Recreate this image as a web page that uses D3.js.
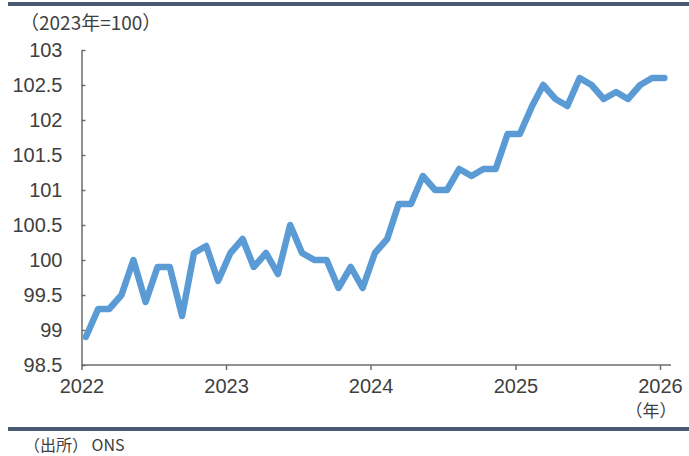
<!DOCTYPE html>
<html>
<head>
<meta charset="utf-8">
<script src="https://cdn.jsdelivr.net/npm/d3@7"></script>
<style>
  body { margin: 0; background: #fff; }
  svg { display: block; font-family: 'Liberation Sans', 'Noto Sans CJK JP', sans-serif; }
</style>
</head>
<body>
<svg id="chart"></svg>
<script>
// monthly index, 2022-01 .. 2026-01
const months = d3.timeMonth.range(new Date(2022, 0, 1), new Date(2026, 1, 1));
const values2022 = [98.9, 99.3, 99.3, 99.5, 100.0, 99.4, 99.9, 99.9, 99.2, 100.1, 100.2, 99.7];
const values2023 = [100.1, 100.3, 99.9, 100.1, 99.8, 100.5, 100.1, 100.0, 100.0, 99.6, 99.9, 99.6];
const values2024 = [100.1, 100.3, 100.8, 100.8, 101.2, 101.0, 101.0, 101.3, 101.2, 101.3, 101.3, 101.8];
const values2025 = [101.8, 102.2, 102.5, 102.3, 102.2, 102.6, 102.5, 102.3, 102.4, 102.3, 102.5, 102.6];
const values2026 = [102.6];
const yTicks = [98.5, 99, 99.5, 100, 100.5, 101, 101.5, 102, 102.5, 103];
const yearTicks = [2022, 2023, 2024, 2025, 2026];

const values = [...values2022, ...values2023, ...values2024, ...values2025, ...values2026];
const series = months.map((m, i) => ({ date: d3.timeDay.offset(m, 11), value: values[i] }));

const width = 689;
const height = 456;
const textColor = '#404040';
const axisColor = '#6d6d6d';

const svg = d3.select('#chart')
  .attr('width', width)
  .attr('height', height);

const xScale = d3.scaleTime()
  .domain([new Date(2022, 0, 1), new Date(2026, 0, 1)])
  .range([81.5, 660]);

const yScale = d3.scaleLinear()
  .domain([98.5, 103])
  .range([365, 50]);

// header / footer rules
svg.append('rect')
  .attr('x', 8).attr('y', 2)
  .attr('width', width - 8).attr('height', 4)
  .attr('fill', '#4a5a72');
svg.append('rect')
  .attr('x', 8).attr('y', 427)
  .attr('width', width - 8).attr('height', 4)
  .attr('fill', '#4a5a72');

svg.append('text')
  .attr('x', 20)
  .attr('y', 23)
  .attr('dy', '0.35em')
  .attr('fill', textColor)
  .attr('font-size', 19)
  .attr('font-family', "'Noto Sans CJK JP', sans-serif")
  .text('（2023年=100）');

svg.append('text')
  .attr('x', 24)
  .attr('y', 445)
  .attr('dy', '0.35em')
  .attr('fill', textColor)
  .attr('font-size', 16)
  .attr('font-family', "'Noto Sans CJK JP', sans-serif")
  .text('（出所） ONS');

const yAxis = d3.axisLeft(yScale)
  .tickValues(yTicks)
  .tickFormat(d3.format('~g'))
  .tickSizeInner(-4)
  .tickSizeOuter(0)
  .tickPadding(19);

const gy = svg.append('g')
  .attr('transform', 'translate(81.5,0)')
  .call(yAxis);
gy.select('.domain').attr('stroke', axisColor).attr('stroke-width', 1.5);
gy.selectAll('.tick line').attr('stroke', axisColor).attr('stroke-width', 1.5);
gy.selectAll('.tick text')
  .attr('fill', textColor)
  .attr('font-size', 20)
  .attr('font-family', "'Liberation Sans', sans-serif");

const xAxis = d3.axisBottom(xScale)
  .tickValues(yearTicks.map(y => new Date(y, 0, 1)))
  .tickFormat(d3.timeFormat('%Y'))
  .tickSizeInner(5)
  .tickSizeOuter(0)
  .tickPadding(9);

const gx = svg.append('g')
  .attr('transform', 'translate(0,365)')
  .call(xAxis);
gx.select('.domain').remove();
gx.append('line')
  .attr('x1', 81.5).attr('x2', 671)
  .attr('stroke', axisColor)
  .attr('stroke-width', 1.5);
gx.selectAll('.tick line').attr('stroke', axisColor).attr('stroke-width', 1.5);
gx.selectAll('.tick text')
  .attr('fill', textColor)
  .attr('font-size', 20)
  .attr('font-family', "'Liberation Sans', sans-serif");

svg.append('text')
  .attr('x', 651)
  .attr('y', 411)
  .attr('dy', '0.35em')
  .attr('text-anchor', 'middle')
  .attr('fill', textColor)
  .attr('font-size', 17)
  .attr('font-family', "'Noto Sans CJK JP', sans-serif")
  .text('（年）');

const line = d3.line()
  .x(d => xScale(d.date))
  .y(d => yScale(d.value));

svg.append('path')
  .datum(series)
  .attr('fill', 'none')
  .attr('stroke', '#5b9bd5')
  .attr('stroke-width', 6.5)
  .attr('stroke-linejoin', 'round')
  .attr('stroke-linecap', 'round')
  .attr('d', line);
</script>
</body>
</html>
